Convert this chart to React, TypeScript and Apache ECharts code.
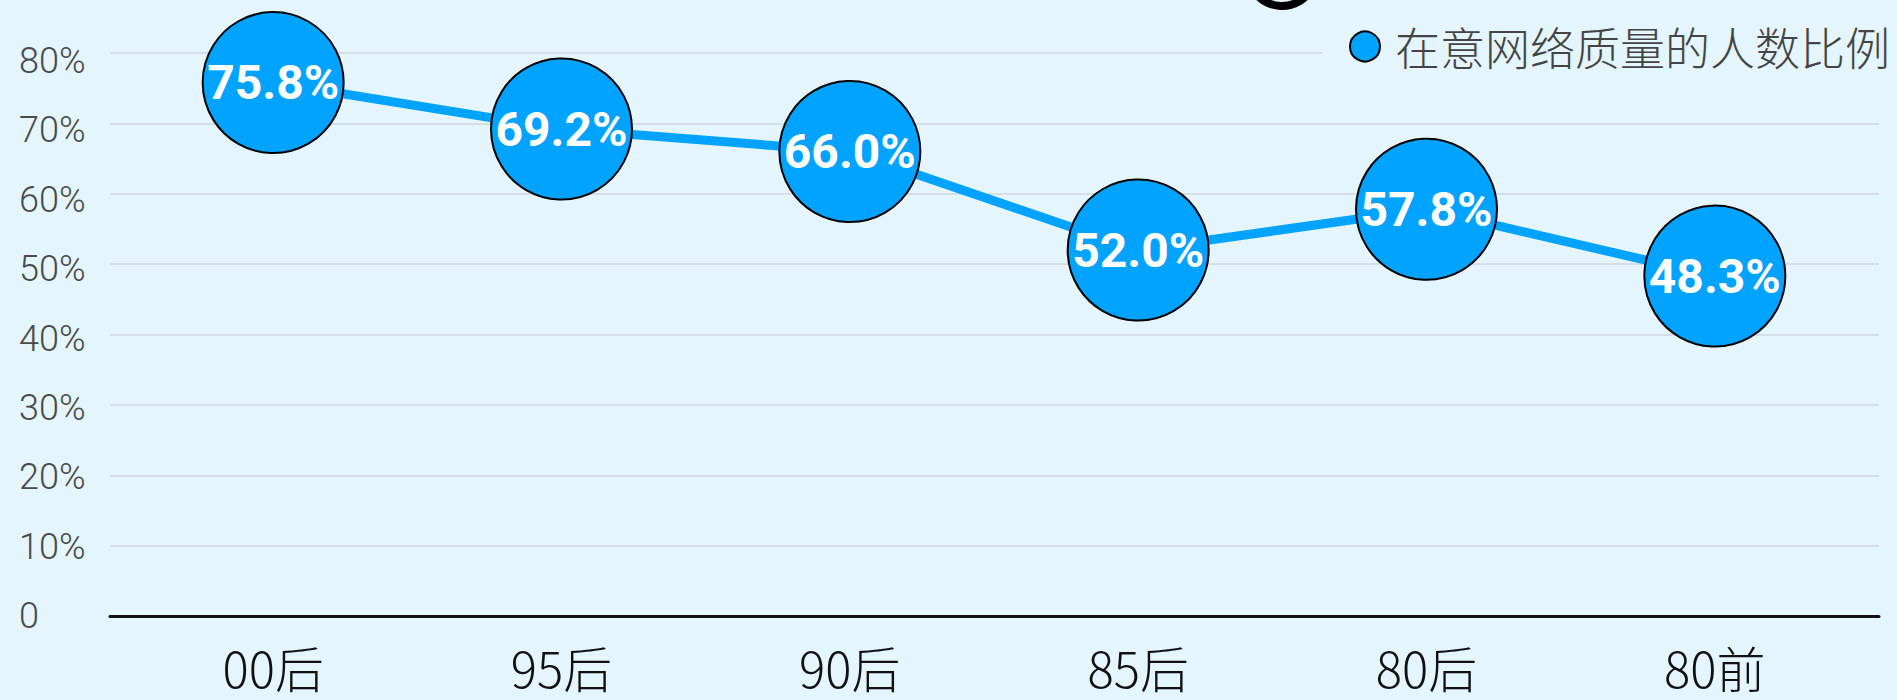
import { useEffect, useRef } from "react";
import * as echarts from "echarts";

const categories = ["00后", "95后", "90后", "85后", "80后", "80前"];
const values = [75.8, 69.2, 66.0, 52.0, 57.8, 48.3];
const seriesName = "在意网络质量的人数比例";
const yMin = 0;
const yMax = 80;
const yStep = 10;

const BG = "#e4f5fe";
const BLUE = "#00a3ff";

export default function App() {
  const ref = useRef<HTMLDivElement>(null);

  useEffect(() => {
    document.body.style.margin = "0";
    const chart = echarts.init(ref.current!, null, { renderer: "svg" });
    chart.setOption({
      animation: false,
      backgroundColor: BG,
      grid: [
        { left: 110, right: 18, top: 53, bottom: 84 },
        { left: 129, right: 38, top: 53, bottom: 84 },
        { left: 110, right: 18, top: 61, bottom: 84 },
      ],
      xAxis: [
        {
          gridIndex: 0,
          type: "value",
          min: 0,
          max: 1,
          axisLine: { show: true, onZero: false, lineStyle: { color: "#111", width: 3 } },
          axisTick: { show: false },
          axisLabel: { show: false },
          splitLine: { show: false },
        },
        {
          gridIndex: 1,
          type: "category",
          data: categories,
          boundaryGap: true,
          axisLine: { show: false },
          axisTick: { show: false },
          axisLabel: {
            margin: 24,
            fontSize: 49,
            lineHeight: 52,
            color: "#111",
            fontFamily: "'Noto Sans CJK SC', 'Noto Sans', sans-serif",
            fontWeight: 300,
          },
        },
        { gridIndex: 2, type: "value", min: 0, max: 1, show: false },
      ],
      yAxis: [
        {
          gridIndex: 0,
          type: "value",
          min: yMin,
          max: yMax,
          interval: yStep,
          axisLine: { show: false },
          axisTick: { show: false },
          axisLabel: { show: false },
          splitLine: { show: true, lineStyle: { color: "#cfd6db", width: 1.5 } },
        },
        { gridIndex: 1, type: "value", min: yMin, max: yMax, show: false },
        {
          gridIndex: 2,
          type: "value",
          min: yMin,
          max: yMax,
          interval: yStep,
          axisLine: { show: false },
          axisTick: { show: false },
          splitLine: { show: false },
          axisLabel: {
            align: "left",
            margin: 91,
            fontSize: 36,
            color: "#4a4a4a",
            fontFamily: "Roboto, sans-serif",
            fontWeight: 300,
            formatter: (v: number) => (v === 0 ? "0" : `${v}%`),
          },
        },
      ],
      legend: {
        data: [seriesName],
        left: 1323,
        top: 18,
        padding: [6, 4, 6, 26],
        backgroundColor: BG,
        icon: "circle",
        itemWidth: 30,
        itemHeight: 30,
        itemStyle: { color: BLUE, borderColor: "#000", borderWidth: 2 },
        textStyle: {
          fontSize: 45,
          color: "#444",
          fontFamily: "'Noto Sans CJK SC', sans-serif",
          fontWeight: 300,
          padding: [0, 0, 0, 10],
        },
      },
      graphic: [
        {
          type: "circle",
          shape: { cx: 1282, cy: -28, r: 34 },
          style: { fill: "none", stroke: "#000", lineWidth: 8 },
          z: 10,
        },
      ],
      series: [
        {
          name: seriesName,
          type: "line",
          xAxisIndex: 1,
          yAxisIndex: 1,
          data: values,
          symbol: "circle",
          symbolSize: 141,
          lineStyle: { color: BLUE, width: 9 },
          itemStyle: { color: BLUE, borderColor: "#000", borderWidth: 2 },
          label: {
            show: true,
            position: "inside",
            formatter: (p: any) => `${Number(p.value).toFixed(1)}%`,
            color: "#fff",
            fontSize: 48,
            fontWeight: "bold",
            fontFamily: "Roboto, sans-serif",
          },
          emphasis: { disabled: true },
        },
      ],
    });
    return () => chart.dispose();
  }, []);

  return <div ref={ref} style={{ width: 1897, height: 700 }} />;
}
